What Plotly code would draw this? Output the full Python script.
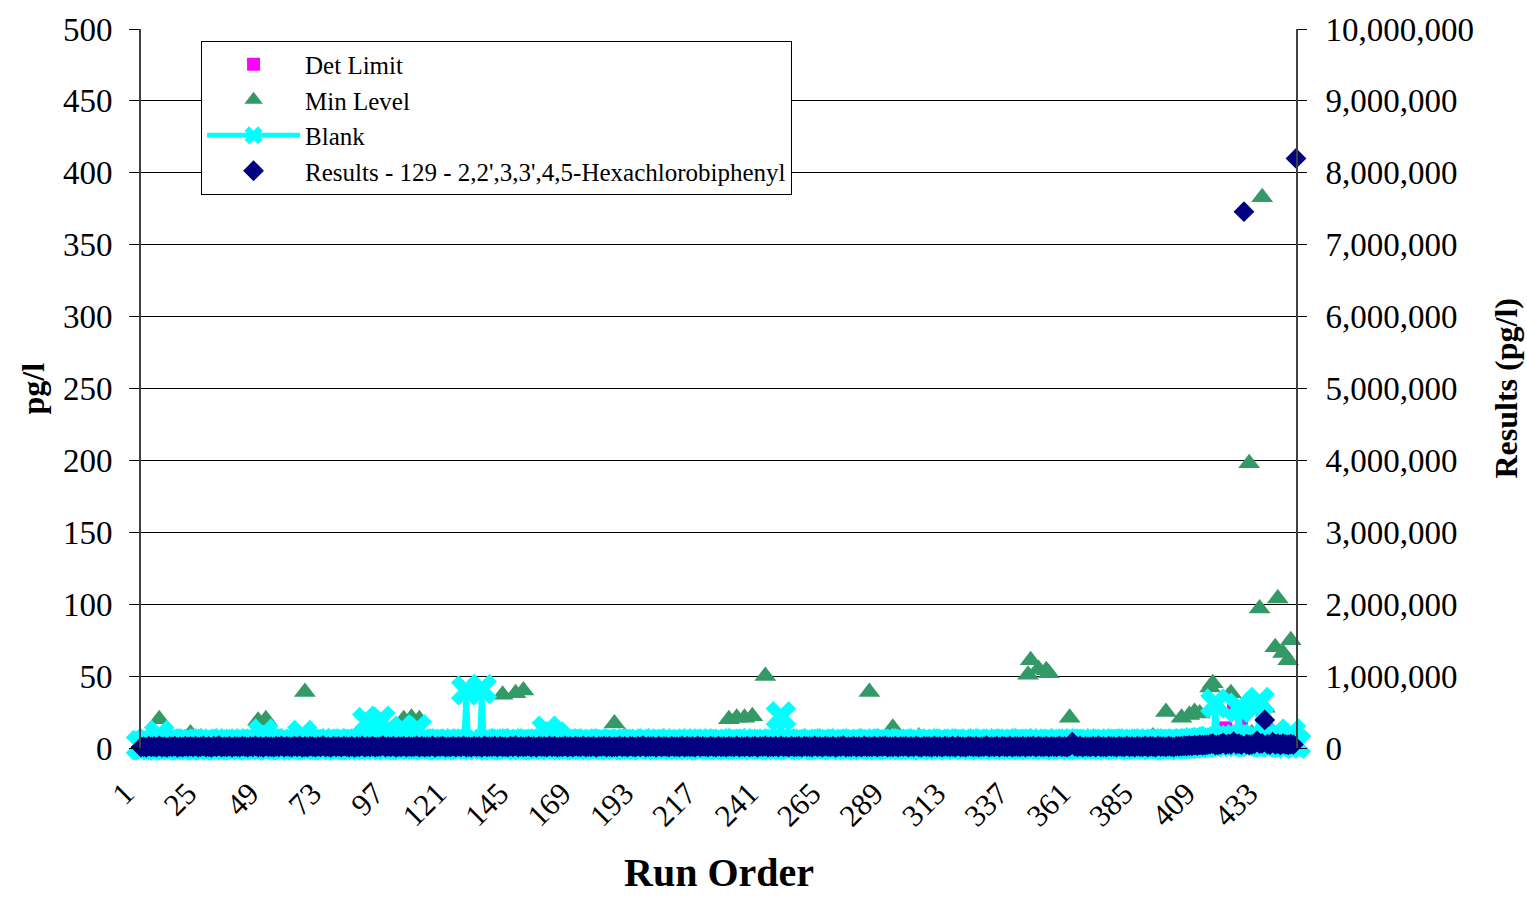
import plotly.graph_objects as go

# Run order categories
runs = list(range(1, 446))
tick_runs = [1, 25, 49, 73, 97, 121, 145, 169, 193, 217, 241, 265, 289, 313, 337, 361, 385, 409, 433]
tick_labels = [str(v) for v in tick_runs]

det_limit = [
    1.5,1.8,1.2,2.0,1.6,1.4,1.9,2.2,1.3,1.7,1.5,2.1,1.8,1.4,1.6,2.0,1.2,1.9,1.5,1.7,
    1.6,1.3,2.0,1.8,1.5,1.1,1.7,2.3,1.4,1.6,1.9,1.2,1.8,2.1,1.5,1.3,1.7,2.0,1.6,1.4,
    2.2,1.5,1.8,1.3,1.9,1.6,2.4,1.7,1.2,1.5,1.8,2.0,1.4,1.6,1.9,1.3,2.1,1.7,1.5,1.8,
    1.4,1.9,2.2,1.6,1.3,1.8,1.5,2.0,1.7,1.2,1.6,1.9,1.4,2.3,1.8,1.5,1.7,2.1,1.3,1.6,
    1.9,1.5,1.8,2.0,1.4,1.7,2.2,1.6,1.3,1.9,1.5,1.8,2.4,1.6,1.2,1.7,2.0,1.5,1.8,1.4,
    2.1,1.6,1.9,1.3,1.7,2.2,1.5,1.8,1.4,2.0,1.6,1.3,1.9,1.7,2.1,1.5,1.8,1.2,1.6,2.0,
    1.7,1.4,2.2,1.8,1.5,1.9,1.6,2.3,1.3,1.7,2.0,1.5,1.8,1.4,2.1,1.6,1.9,1.2,1.7,2.0,
    1.5,1.8,2.2,1.4,1.6,1.9,1.3,2.0,1.7,1.5,2.1,1.8,1.4,1.6,2.3,1.5,1.9,1.2,1.7,2.0,
    1.6,1.3,1.9,2.1,1.5,1.8,1.4,2.0,1.7,1.6,2.2,1.3,1.8,1.5,1.9,1.7,2.0,1.4,1.6,2.1,
    1.8,1.5,2.3,1.4,1.7,1.9,1.6,2.0,1.3,1.8,1.5,2.2,1.7,1.4,1.9,1.6,2.1,1.5,1.8,1.3,
    2.0,1.6,1.9,1.4,1.7,2.2,1.5,1.8,1.3,2.1,1.6,1.9,1.4,1.7,2.0,1.5,1.8,2.3,1.6,1.4,
    1.9,1.7,2.1,1.5,1.8,1.3,2.0,1.6,1.9,1.4,2.2,1.7,1.5,1.8,2.0,1.3,1.6,1.9,2.1,1.5,
    1.8,1.4,2.0,1.7,1.5,2.3,1.6,1.9,1.3,1.8,2.1,1.5,1.7,1.4,2.0,1.6,1.9,1.2,1.8,2.2,
    1.5,1.7,2.0,1.4,1.9,1.6,2.1,1.3,1.8,1.5,2.2,1.7,1.4,1.9,1.6,2.0,1.5,1.8,1.3,2.1,
    1.7,1.4,1.9,2.2,1.6,1.8,1.3,2.0,1.5,1.7,2.1,1.4,1.9,1.6,2.3,1.5,1.8,1.2,1.7,2.0,
    1.6,1.9,1.4,2.1,1.7,1.5,2.0,1.8,1.3,1.6,2.2,1.5,1.9,1.4,1.7,2.0,1.6,1.8,1.3,2.1,
    1.5,1.8,2.0,1.4,1.7,1.9,1.6,2.3,1.5,1.8,1.3,2.0,1.7,1.4,1.9,2.1,1.6,1.5,1.8,2.2,
    1.4,1.7,2.0,1.6,1.9,1.3,2.1,1.8,1.5,1.7,2.2,1.4,1.9,1.6,2.0,1.5,1.8,1.3,1.7,2.1,
    1.6,1.9,1.5,2.0,1.7,1.4,2.2,1.8,1.6,1.3,1.9,2.1,1.5,1.7,2.0,1.4,1.8,1.6,2.3,1.5,
    1.9,1.6,2.0,1.4,1.7,2.1,1.5,1.8,1.3,2.0,1.6,1.9,2.2,1.5,1.7,1.4,2.0,1.8,1.6,2.1,
    2.4,1.8,2.6,3.0,2.2,2.8,3.5,2.5,4.0,3.2,2.7,3.8,4.5,3.0,5.0,4.2,6.0,14.0,5.5,8.0,
    26.0,7.0,6.5,19.0,5.0,4.5,6.0,5.5,7.5,4.0,6.5,22.0,5.0,4.5,3.5,6.0,4.0,5.5,3.0,4.5,
    3.5,5.0,4.0,3.0,4.5,
]

min_level = [
    3,4,2.5,5,3.5,4,6,20,4.5,3,2.5,5,3.5,4,3,4.5,2.8,5.5,3.2,10,
    4,3.5,5,2.8,4.2,3,5.5,3.8,4.5,2.6,3.9,5,3.3,4.8,2.9,4.1,5.2,3.6,4.4,3.1,
    4.7,3.4,5.1,2.7,4,19,3.8,5.3,20,3.5,4.6,2.8,5,3.9,4.3,3.2,5.6,3.7,4.1,2.9,
    4.4,3.6,5.2,39,4.8,3.1,4,5.4,3.3,4.7,2.8,5,3.9,4.2,3.5,5.1,2.9,4.6,3.8,4.3,
    3.2,5.5,4,3.6,4.9,3.3,5.2,3.7,4.1,2.8,5,4.4,3.5,4.8,3,5.3,3.9,4.2,3.4,4.7,
    5.1,20,3.8,4.5,21,3.3,5,20,4.1,3.6,4.9,3.2,5.4,3.8,4.3,2.9,5.1,3.6,4.6,3.4,
    4.8,3.1,5.2,3.9,4.4,3.3,5.5,3.7,4,2.8,5,4.2,3.5,4.9,3.2,5.3,3.8,4.5,3.4,37,
    4.1,3.6,5,3.3,38,4.2,3.9,40,3.5,5.2,3.8,4.6,3.1,5,3.7,4.3,3.4,5.4,3.9,4.1,
    3.2,4.8,3.6,5.1,3.3,4.5,2.9,5.2,3.8,4.3,3.5,4.9,3.1,5.3,3.7,4.4,3.3,5,3.9,4.2,
    3.4,4.7,17,5.1,3.6,4.3,8,4.8,3.7,5.2,3.5,4.1,3.9,4.6,3.2,5,3.8,4.4,3.1,5.3,
    3.6,4.2,3.3,4.9,3.8,5.1,3.4,4.5,3.1,5.4,3.7,4.3,3.5,4.8,3.2,5,3.9,4.1,3.6,4.7,
    3.3,5.2,3.8,4.4,3.5,5.5,20,4.2,3.7,21,3.4,4.9,21,5.1,3.6,22,3.9,4.6,3.2,5.3,
    50,4.3,3.8,4.8,3.5,5,3.3,4.5,3.9,5.2,3.4,4.1,3.7,4.7,3.1,5.4,3.8,4.2,3.5,4.9,
    3.3,5.1,3.9,4.4,3.6,5,3.2,4.6,3.8,5.3,3.5,4.2,3.7,4.8,3.4,5.2,3.9,4.3,3.1,5,
    39,4.5,3.6,5.1,3.8,4.4,3.3,4.9,3.5,14,3.7,4.6,3.2,5.4,3.9,4.1,3.4,4.8,3.6,8,
    3.8,4.3,3.5,5,3.2,4.7,3.9,5.2,3.4,4.4,3.7,4.9,3.1,5.3,3.6,4.2,3.8,5.1,3.3,4.6,
    3.5,5,3.9,4.3,3.4,5.2,3.7,4.5,3.2,5.4,3.8,4.1,3.6,4.8,3.3,5.1,3.9,4.4,3.5,5,
    3.7,51,61,4.6,3.4,55,3.8,4.2,54,52,3.6,4.9,3.2,5.3,3.9,4.4,3.5,21,3.8,5.1,
    3.3,4.6,3.7,5,3.4,4.3,3.9,5.2,3.6,4.8,3.2,4.5,3.8,5.4,3.5,7,3.7,4.9,3.3,5.1,
    3.9,4.4,3.6,5,3.4,4.7,3.8,5.3,3.2,8,3.7,4.6,3.5,5.1,25,4.2,3.6,4.9,3.3,5.2,
    21,4.5,3.9,23,3.6,25,4.1,24,3.8,5,4.6,42,45,5.3,6,4.8,7,8,36,38,
    6.5,5,9,7,8,6,198,10,30,8,97,383,28,12,9,11,70,104,8,66,
    10,61,75,9,12,
]

blank = [
    2,1.5,2.5,3,1.8,2.2,3.5,9,2.4,1.6,2.8,3.2,1.9,2.5,3,2.1,1.7,2.6,3.3,2,
    2.7,1.8,3.1,2.3,1.6,2.9,3.4,2,2.5,1.7,3,2.2,2.8,1.9,3.3,2.4,1.6,2.7,3.1,2.1,
    2.6,1.9,3.2,2.3,1.8,2.8,3,10,2.2,1.7,2.9,3.4,2,2.5,1.8,3.1,2.4,2.7,1.6,3,
    2.3,2.8,9,2.1,3.2,1.9,2.6,3.3,2,2.4,1.7,3,2.5,2.9,1.8,3.4,2.2,2.7,3.1,2,
    2.5,1.8,3,2.3,2.8,1.9,3.2,18,2.4,2.1,3.3,2.6,19,2,2.9,1.7,3.1,2.5,2.2,2.8,
    1.9,12,2.4,3,2.1,2.7,13,2.3,3.2,1.8,2.6,3,2.2,2.9,1.7,3.3,2.5,2,2.8,3.1,
    2.1,2.6,1.9,3.2,2.4,40,2.7,3,2,2.5,1.8,41,2.3,2.9,1.6,3.1,2.2,2.8,3.4,2,
    2.6,1.9,3.2,2.4,2.8,1.7,3,2.3,2.6,3.3,2.1,2.7,1.8,3.1,2.5,2.2,12,2.9,2,8,
    2.4,3.1,1.9,2.7,3.3,2.2,2.6,1.8,3,2.5,2.1,2.9,3.2,2,2.4,1.7,3.1,2.6,2.3,2.8,
    1.9,3.2,2.5,2.1,2.8,3,2.2,1.8,2.7,3.3,2.4,2,2.9,1.7,3.1,2.6,2.3,2.8,3.4,2.1,
    2.5,1.9,3,2.4,2.7,2,3.2,2.2,2.6,1.8,3.1,2.5,2.9,2.1,3.3,2.3,1.7,2.8,3,2.4,
    2,2.6,3.2,1.9,2.7,2.3,3,2.1,2.5,3.4,1.8,2.8,2.4,3.1,2.2,2.6,1.9,3.3,2.5,2,
    2.8,3,2.3,1.7,2.9,2.5,22,2.1,3.2,2.6,2,2.7,3.1,2.4,1.8,3,2.2,2.6,3.3,2.1,
    2.5,1.9,2.9,3.2,2.3,2.7,2,3.1,2.4,2.8,1.8,3,2.6,2.2,3.3,2.1,2.5,2.9,1.7,3.2,
    2.4,2.8,2,3.1,2.6,2.2,3.4,1.9,2.7,2.5,3,2.1,2.8,3.3,2.3,1.8,2.9,2.6,3.1,2.2,
    2.7,2,3.2,2.4,2.9,1.7,3,2.5,2.2,3.3,2.6,2.1,2.8,3.1,1.9,2.4,3.2,2.7,2.3,2.9,
    2.1,3,2.5,1.8,3.3,2.6,2.2,2.9,3.1,2,2.7,2.4,3.2,1.9,2.8,2.5,3,2.3,2.6,3.4,
    2.2,2.8,1.9,3.1,2.5,2.9,2.3,3.2,2,2.7,3,2.4,1.8,3.3,2.6,2.1,2.9,3.1,2.4,2.8,
    2,3.2,2.6,2.2,2.9,3,1.9,2.7,2.4,3.3,2.1,2.8,2.5,3.1,2.3,1.8,3,2.6,2.2,2.9,
    3.2,2.4,2.7,1.9,3.1,2.5,2.8,2.2,3.3,2,2.6,3,2.4,2.9,1.8,3.2,2.7,2.3,3.1,2.5,
    2.8,3,2.6,3.5,2.9,4,3.2,3.8,4.2,3.5,4.5,5,3.8,31,4.5,5.2,4,6,4.8,5.5,
    4.2,6,28,5,4.6,3.8,5.5,4.2,6.2,5,32,4.5,3.6,5.8,4.1,3.9,5,4.4,6,3.5,
    4.8,3.2,10,4,3,
]

results = [
    12000,18000,9000,25000,15000,21000,11000,30000,14000,19000,8000,23000,16000,27000,10000,20000,13000,24000,17000,22000,
    15000,26000,11000,19000,28000,13000,21000,9000,24000,17000,31000,12000,20000,15000,25000,10000,22000,18000,14000,27000,
    19000,11000,23000,16000,29000,13000,21000,8000,26000,17000,20000,12000,24000,15000,30000,11000,22000,18000,14000,25000,
    16000,28000,10000,21000,14000,26000,19000,12000,23000,17000,31000,13000,20000,9000,25000,16000,22000,11000,27000,18000,
    14000,24000,10000,21000,17000,29000,12000,23000,15000,26000,11000,20000,18000,32000,13000,22000,16000,25000,9000,21000,
    17000,27000,12000,23000,15000,19000,28000,11000,24000,14000,21000,16000,30000,10000,22000,18000,26000,13000,20000,15000,
    25000,11000,22000,17000,29000,14000,20000,12000,26000,16000,23000,9000,28000,15000,21000,18000,24000,12000,27000,16000,
    20000,13000,25000,17000,31000,11000,22000,15000,19000,27000,14000,23000,10000,26000,18000,21000,13000,29000,16000,24000,
    12000,20000,17000,28000,14000,23000,11000,25000,19000,15000,30000,13000,21000,16000,26000,10000,22000,18000,27000,14000,
    24000,12000,20000,17000,29000,15000,22000,11000,26000,18000,14000,25000,16000,31000,13000,21000,19000,23000,10000,27000,
    15000,22000,18000,12000,26000,16000,20000,14000,28000,11000,24000,17000,21000,13000,30000,15000,23000,19000,12000,25000,
    18000,13000,27000,16000,21000,11000,24000,20000,15000,29000,12000,22000,17000,26000,14000,20000,25000,10000,23000,18000,
    28000,14000,21000,16000,25000,12000,30000,17000,22000,13000,27000,15000,19000,24000,11000,26000,18000,21000,14000,29000,
    16000,23000,12000,27000,19000,15000,25000,10000,22000,18000,31000,13000,20000,16000,26000,14000,23000,11000,28000,17000,
    21000,15000,26000,12000,24000,18000,29000,14000,20000,16000,25000,11000,23000,19000,27000,13000,22000,15000,30000,17000,
    12000,25000,18000,21000,14000,28000,16000,23000,11000,26000,19000,15000,24000,13000,29000,17000,20000,12000,27000,22000,
    16000,24000,13000,20000,18000,31000,14000,22000,17000,26000,11000,25000,19000,15000,28000,13000,23000,21000,16000,27000,
    14000,22000,18000,30000,12000,25000,20000,16000,27000,13000,23000,19000,15000,29000,17000,21000,11000,26000,80000,24000,
    15000,28000,12000,22000,19000,17000,25000,14000,31000,16000,21000,13000,27000,18000,23000,11000,26000,20000,15000,29000,
    17000,22000,13000,25000,19000,16000,28000,14000,24000,21000,12000,30000,18000,23000,15000,27000,20000,13000,26000,22000,
    25000,31000,28000,35000,30000,40000,33000,45000,38000,42000,48000,55000,60000,40000,45000,52000,70000,48000,58000,50000,
    90000,55000,62000,48000,7460000,52000,45000,50000,58000,100000,60000,65000,390000,55000,48000,80000,52000,60000,45000,60000,
    50000,45000,55000,48000,8200000,
]

FONT = "Liberation Serif"

fig = go.Figure()
fig.add_trace(go.Scatter(
    x=runs, y=det_limit, name="Det Limit", mode="markers", cliponaxis=False,
    marker=dict(symbol="square", size=13, color="#FF00FF"),
))
fig.add_trace(go.Scatter(
    x=runs, y=min_level, name="Min Level", mode="markers", cliponaxis=False,
    marker=dict(symbol="triangle-up", size=19, color="#339966"),
))
fig.add_trace(go.Scatter(
    x=runs, y=blank, name="Blank", mode="lines+markers", cliponaxis=False,
    line=dict(color="#00FFFF", width=5),
    marker=dict(symbol="x", size=27, color="#00FFFF"),
))
fig.add_trace(go.Scatter(
    x=runs, y=results, name="Results - 129 - 2,2',3,3',4,5-Hexachlorobiphenyl",
    mode="markers", yaxis="y2", cliponaxis=False,
    marker=dict(symbol="diamond", size=16, color="#000080"),
))

fig.update_layout(
    width=1527, height=898, autosize=False,
    margin=dict(l=141, r=231, t=22, b=150, pad=0),
    paper_bgcolor="white", plot_bgcolor="white",
    font=dict(family=FONT, color="black", size=28),
    showlegend=True,
    legend=dict(
        x=0.052, y=0.984, xanchor="left", yanchor="top",
        bgcolor="white", bordercolor="black", borderwidth=1,
        font=dict(family=FONT, size=25, color="black"),
        itemsizing="trace", tracegroupgap=0, itemwidth=93,
    ),
    xaxis=dict(
        range=[1, 445], tickmode="array", tickvals=tick_runs, ticktext=tick_labels,
        tickangle=-45, tickfont=dict(family=FONT, size=31, color="black"),
        showgrid=False, zeroline=False, showline=False, ticks="",
        ticklabelstandoff=20, ticklabelshift=-16,
    ),
    yaxis=dict(
        range=[0, 500], tickmode="linear", tick0=0, dtick=50,
        showgrid=True, gridcolor="black", gridwidth=1,
        zeroline=False, showline=True, linecolor="#404040", linewidth=2,
        ticks="outside", ticklen=10, tickcolor="black", tickwidth=1,
        tickfont=dict(family=FONT, size=33, color="black"),
        ticklabelstandoff=10,
    ),
    yaxis2=dict(
        range=[0, 10000000], tickmode="linear", tick0=0, dtick=1000000,
        overlaying="y", side="right", tickformat=",d",
        showgrid=False, zeroline=False, showline=True, linecolor="#404040", linewidth=2,
        ticks="outside", ticklen=9, tickcolor="black", tickwidth=1,
        tickfont=dict(family=FONT, size=33, color="black"),
        ticklabelstandoff=12,
    ),
    annotations=[
        dict(text="<b>pg/l</b>", xref="paper", yref="paper", x=0, y=0.5,
             xshift=-109, textangle=-90, showarrow=False,
             font=dict(family=FONT, size=32, color="black"),
             xanchor="center", yanchor="middle"),
        dict(text="<b>Results (pg/l)</b>", xref="paper", yref="paper", x=1, y=0.5,
             xshift=209, textangle=-90, showarrow=False,
             font=dict(family=FONT, size=32, color="black"),
             xanchor="center", yanchor="middle"),
        dict(text="<b>Run Order</b>", xref="paper", yref="paper", x=0.5, y=0,
             yshift=-124, showarrow=False,
             font=dict(family=FONT, size=40, color="black"),
             xanchor="center", yanchor="middle"),
    ],
)

fig.write_html(
    "out.html",
    config={"displayModeBar": False},
    post_script="document.body.style.margin='0';document.body.style.overflow='hidden';",
)
